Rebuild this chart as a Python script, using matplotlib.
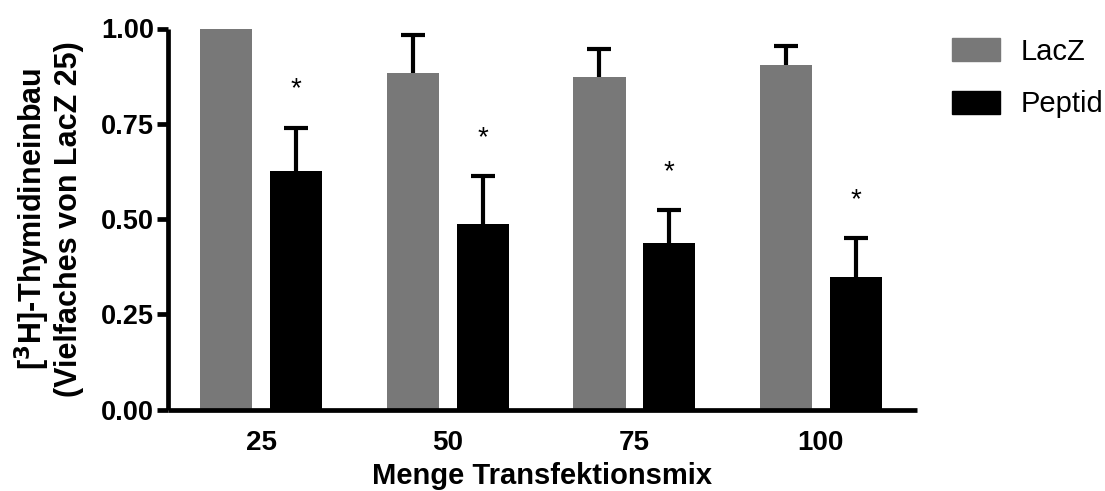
import matplotlib.pyplot as plt
import numpy as np
from matplotlib.patches import Patch

plt.rcParams['font.family'] = ['Liberation Sans', 'DejaVu Sans']

# data
groups = ['25', '50', '75', '100']
lacz = [1.00, 0.883, 0.873, 0.904]
lacz_err = [0.0, 0.099, 0.073, 0.050]
peptid = [0.627, 0.488, 0.437, 0.348]
peptid_err = [0.113, 0.124, 0.087, 0.102]
signif = ['*', '*', '*', '*']

grey = '#787878'
x = np.arange(len(groups))
width = 0.28
offset = 0.1875
cap = 0.064

fig = plt.figure(figsize=(11.05, 4.91), dpi=100)
ax = fig.add_axes([168 / 1105, 1 - 409.5 / 491, 749 / 1105, 381 / 491])

ax.bar(x - offset, lacz, width, color=grey, clip_on=False, zorder=2)
ax.bar(x + offset, peptid, width, color='black', clip_on=False, zorder=2)

# upper error bars only (drawn by hand so no cap sits on the bar top)
for xs, vals, errs in [(x - offset, lacz, lacz_err), (x + offset, peptid, peptid_err)]:
    for xi, v, e in zip(xs, vals, errs):
        if e <= 0:
            continue
        ax.vlines(xi, v, v + e, color='black', lw=3, zorder=1)
        ax.hlines(v + e, xi - cap, xi + cap, color='black', lw=3, zorder=1)

for i in range(len(groups)):
    ax.text(x[i] + offset, peptid[i] + peptid_err[i] + 0.1, signif[i],
            ha='center', va='center', fontsize=20)

ax.set_xlim(-0.5, 3.515)
ax.set_ylim(0, 1.0)
ax.set_yticks([0, 0.25, 0.5, 0.75, 1.0])
ax.set_yticklabels(['0.00', '0.25', '0.50', '0.75', '1.00'], fontsize=19.5, fontweight='bold')
ax.set_xticks(x)
ax.set_xticklabels(groups, fontsize=20, fontweight='bold')
ax.tick_params(axis='y', length=8, width=3.4, direction='out', pad=2)
ax.tick_params(axis='x', length=0, pad=15)

for s in ['top', 'right']:
    ax.spines[s].set_visible(False)
for s in ['left', 'bottom']:
    ax.spines[s].set_linewidth(3.4)
    ax.spines[s].set_capstyle('butt')

ax.set_xlabel('Menge Transfektionsmix', fontsize=21, fontweight='bold', labelpad=4)
ax.set_ylabel('[$\\mathbf{^3}$H]-Thymidineinbau\n(Vielfaches von LacZ 25)',
              fontsize=22, fontweight='bold', labelpad=12, linespacing=1.1)

handles = [Patch(color=grey, label='LacZ'), Patch(color='black', label='Peptid')]
fig.legend(handles=handles, loc='upper left', bbox_to_anchor=(0.843, 0.965),
           frameon=False, fontsize=21, handlelength=1.65, handleheight=0.85,
           labelspacing=0.85, handletextpad=0.7, borderpad=0.2)

fig.savefig('out.png', dpi=100)
